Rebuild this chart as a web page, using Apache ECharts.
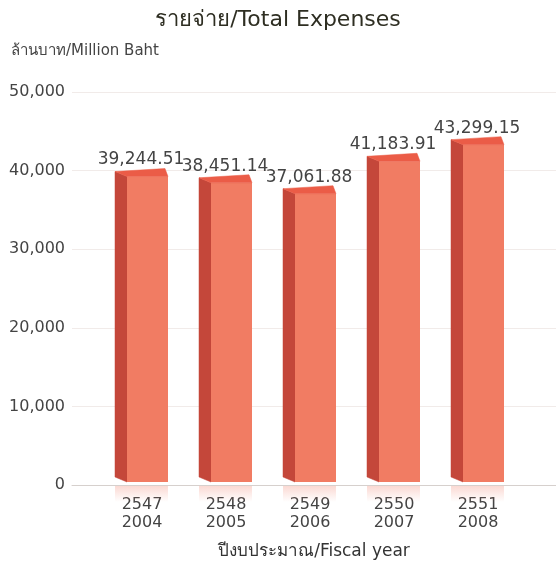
<!DOCTYPE html>
<html><head><meta charset="utf-8">
<script src="https://cdn.jsdelivr.net/npm/echarts@6/dist/echarts.min.js"></script>
<style>html,body{margin:0;background:#fff}#c{width:556px;height:566px}</style>
</head><body><div id="c"></div>
<script>
const yearsBE = ['2547', '2548', '2549', '2550', '2551'];
const yearsCE = ['2004', '2005', '2006', '2007', '2008'];
const expenses = [39244.51, 38451.14, 37061.88, 41183.91, 43299.15];
const yTicks = { min: 0, max: 50000, interval: 10000 };

const categories = yearsBE.map((b, i) => b + '\n' + yearsCE[i]);
const FONT = 'DejaVu Sans';
const fmt = v => v.toLocaleString('en-US', { minimumFractionDigits: 2, maximumFractionDigits: 2 });

function renderItem(params, api) {
  const i = api.value(0), v = api.value(1);
  const top = api.coord([i, v]);
  const base = api.coord([i, 0]);
  const cx = top[0];
  const x0 = cx - 15, x1 = cx + 26, d = 12, dy = 5;
  const yT = top[1], yB = base[1] - 3;
  return {
    type: 'group',
    children: [
      { type: 'rect', shape: { x: x0 - d, y: base[1] + 1, width: x1 - x0 + d, height: 16 },
        style: { fill: new echarts.graphic.LinearGradient(0, 0, 0, 1, [
          { offset: 0, color: 'rgba(240,130,110,0.30)' }, { offset: 1, color: 'rgba(240,130,110,0)' }]) } },
      { type: 'polygon', shape: { points: [[x0, yT], [x0, yB], [x0 - d, yB - dy], [x0 - d, yT - dy]] },
        style: { fill: '#c4473a', stroke: '#c4473a', lineWidth: 0.5 } },
      { type: 'rect', shape: { x: x0, y: yT, width: x1 - x0, height: yB - yT },
        style: { fill: '#f17c63' } },
      { type: 'polygon', shape: { points: [[x0, yT], [x1, yT], [x1 - 3, yT - 8], [x0 - d, yT - dy]] },
        style: { fill: '#eb5c47', stroke: '#eb5c47', lineWidth: 0.5 } },
      { type: 'text', style: { text: fmt(v), x: cx - 1, y: yT - 8, align: 'center', verticalAlign: 'bottom',
        fontSize: 17, fontFamily: FONT, fill: '#444' } }
    ]
  };
}

const chart = echarts.init(document.getElementById('c'));
chart.setOption({
  animation: false,
  backgroundColor: '#fff',
  title: [
    { text: 'รายจ่าย/Total Expenses', left: 'center', top: 4,
      textStyle: { fontFamily: FONT, fontSize: 22, fontWeight: 'normal', color: '#2e2e22' } },
    { text: 'ล้านบาท/Million Baht', left: 6, top: 39,
      textStyle: { fontFamily: FONT, fontSize: 15, fontWeight: 'normal', color: '#444' } }
  ],
  grid: [
    { left: 100, right: 36, top: 92, bottom: 81, outerBoundsMode: 'none', containLabel: false },
    { left: 72, right: 0, top: 92, bottom: 81, outerBoundsMode: 'none', containLabel: false }
  ],
  xAxis: [
    { type: 'category', gridIndex: 0, data: categories,
      axisLine: { show: false }, axisTick: { show: false },
      axisLabel: { margin: 11, fontFamily: FONT, fontSize: 16, lineHeight: 18, color: '#444' } },
    { type: 'category', gridIndex: 1, data: [''],
      axisLine: { lineStyle: { color: '#d6d0cd' } }, axisTick: { show: false }, axisLabel: { show: false },
      name: 'ปีงบประมาณ/Fiscal year', nameLocation: 'middle', nameGap: 58,
      nameTextStyle: { fontFamily: FONT, fontSize: 17, color: '#333' } }
  ],
  yAxis: [
    { type: 'value', gridIndex: 0, min: yTicks.min, max: yTicks.max, interval: yTicks.interval, show: false },
    { type: 'value', gridIndex: 1, min: yTicks.min, max: yTicks.max, interval: yTicks.interval,
      axisLine: { show: false }, axisTick: { show: false },
      axisLabel: { margin: 7, fontFamily: FONT, fontSize: 16, color: '#444',
        formatter: v => v.toLocaleString('en-US') },
      splitLine: { lineStyle: { color: '#f1ebe9' } } }
  ],
  series: [{
    type: 'custom', xAxisIndex: 0, yAxisIndex: 0,
    renderItem: renderItem,
    data: expenses.map((v, i) => [i, v]),
    z: 5
  }]
});
</script></body></html>
